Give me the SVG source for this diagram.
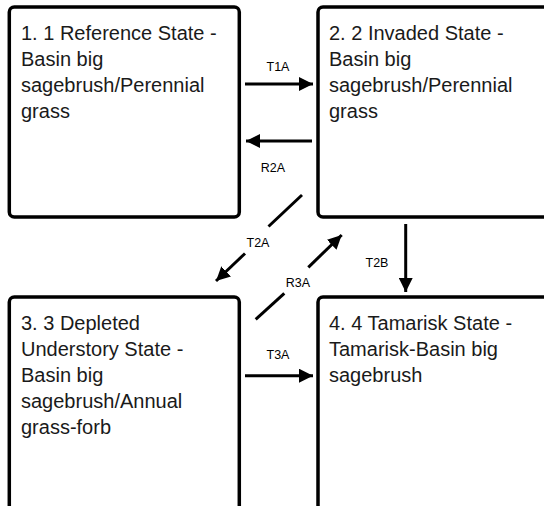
<svg xmlns="http://www.w3.org/2000/svg" width="544" height="506" viewBox="0 0 544 506">
<defs>
<style>
.box{fill:#fff;stroke:#000;stroke-width:3.5}
.t{font-family:"Liberation Sans",Arial,sans-serif;font-size:20px;fill:#1a1a1a}
.lab{font-family:"Liberation Sans",Arial,sans-serif;font-size:12.5px;fill:#000;text-anchor:middle}
.c{stroke:#000;stroke-width:3;fill:none}
.a{marker-end:url(#ah)}
</style>
<marker id="ah" markerUnits="userSpaceOnUse" markerWidth="14" markerHeight="14" viewBox="0 0 12 12" refX="12" refY="6" orient="auto">
<path d="M0,0 L12,6 L0,12 Z" fill="#000"/>
</marker>
</defs>
<rect width="544" height="506" fill="#fff"/>
<g id="node1">
<rect class="box" x="9.3" y="7" width="230" height="210" rx="5"/>
<text class="t" x="21" y="39.5">1. 1 Reference State -</text>
<text class="t" x="21" y="65.5">Basin big</text>
<text class="t" x="21" y="91.5">sagebrush/Perennial</text>
<text class="t" x="21" y="117.5">grass</text>
</g>
<g id="node2">
<rect class="box" x="318" y="7" width="240" height="210" rx="5"/>
<text class="t" x="329" y="39.5">2. 2 Invaded State -</text>
<text class="t" x="329" y="65.5">Basin big</text>
<text class="t" x="329" y="91.5">sagebrush/Perennial</text>
<text class="t" x="329" y="117.5">grass</text>
</g>
<g id="node3">
<rect class="box" x="9.3" y="297" width="230" height="240" rx="5"/>
<text class="t" x="21" y="329.5">3. 3 Depleted</text>
<text class="t" x="21" y="355.5">Understory State -</text>
<text class="t" x="21" y="381.5">Basin big</text>
<text class="t" x="21" y="407.5">sagebrush/Annual</text>
<text class="t" x="21" y="433.5">grass-forb</text>
</g>
<g id="node4">
<rect class="box" x="318" y="297" width="240" height="240" rx="5"/>
<text class="t" x="329" y="329.5">4. 4 Tamarisk State -</text>
<text class="t" x="329" y="355.5">Tamarisk-Basin big</text>
<text class="t" x="329" y="381.5">sagebrush</text>
</g>
<g id="connectors">
<line class="c a" x1="245" y1="84" x2="313" y2="84"/>
<text class="lab" x="278" y="70.5">T1A</text>
<line class="c a" x1="312" y1="141" x2="246" y2="141"/>
<text class="lab" x="273" y="172">R2A</text>
<line class="c a" x1="405.7" y1="224" x2="405.7" y2="292"/>
<text class="lab" x="377" y="267">T2B</text>
<line class="c a" x1="245" y1="375.7" x2="313" y2="375.7"/>
<text class="lab" x="278" y="359">T3A</text>
<line class="c" x1="302" y1="195" x2="268.5" y2="226.5"/>
<line class="c a" x1="245" y1="253.5" x2="216" y2="281"/>
<text class="lab" x="258" y="247">T2A</text>
<line class="c" x1="255.7" y1="319.3" x2="284.3" y2="293.3"/>
<line class="c a" x1="308.3" y1="267.3" x2="341.7" y2="235"/>
<text class="lab" x="298" y="287">R3A</text>
</g>
</svg>
